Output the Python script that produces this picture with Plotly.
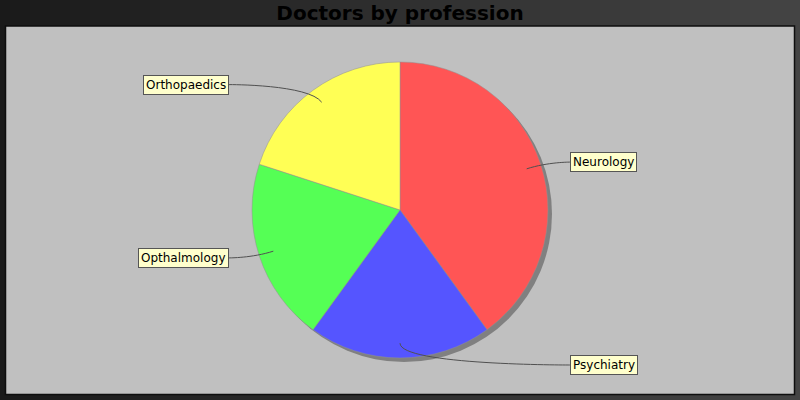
import math
import plotly.graph_objects as go

# ---- data ----
categories = ["Neurology", "Psychiatry", "Opthalmology", "Orthopaedics"]
values = [40, 20, 20, 20]
slice_colors = ["#FF5555", "#5555FF", "#55FF55", "#FFFF55"]
title_text = "Doctors by profession"

# ---- layout constants (pixels) ----
W, H = 800, 400
CX, CY, R = 400, 210, 148
SHADOW = 4


def px(x):
    return x / W


def py(y):
    return 1 - y / H


fig = go.Figure()

# shadow pie
fig.add_trace(go.Pie(
    values=[1], labels=["shadow"], sort=False,
    marker=dict(colors=["#808080"], line=dict(width=0)),
    textinfo="none", hoverinfo="skip", showlegend=False,
    domain=dict(x=[px(CX - R + SHADOW), px(CX + R + SHADOW)],
                y=[py(CY + R + SHADOW), py(CY - R + SHADOW)]),
))

# main pie
fig.add_trace(go.Pie(
    values=values, labels=categories, sort=False, direction="clockwise",
    rotation=0,
    marker=dict(colors=slice_colors, line=dict(color="#909090", width=0.5)),
    textinfo="none", hoverinfo="label+value+percent", showlegend=False,
    domain=dict(x=[px(CX - R), px(CX + R)], y=[py(CY + R), py(CY - R)]),
))

shapes = []
# gradient background strips
n = 80
c0, c1 = 26, 68
for i in range(n):
    v = int(round(c0 + (c1 - c0) * i / (n - 1)))
    col = f"rgb({v},{v},{v})"
    shapes.append(dict(type="rect", xref="paper", yref="paper", layer="below",
                       x0=i / n, x1=(i + 1) / n + 0.002, y0=0, y1=1,
                       fillcolor=col, line=dict(width=0)))
# plot area
shapes.append(dict(type="rect", xref="paper", yref="paper", layer="below",
                   x0=px(5.5), x1=px(794.5), y0=py(394.5), y1=py(26),
                   fillcolor="#C0C0C0", line=dict(color="#0e0e0e", width=1.5)))

annotations = []
total = sum(values)
cum = 0
for cat, v in zip(categories, values):
    mid = (cum + v / 2) / total
    cum += v
    th = 2 * math.pi * mid
    s, c = math.sin(th), math.cos(th)
    ax, ay = CX + 0.9 * R * s, CY - 0.9 * R * c
    elx, ely = CX + 1.05 * R * s, CY - 1.05 * R * c
    ly = CY - 155 * c
    right = mid <= 0.5
    ex = CX + 170 if right else CX - 171
    path = (f"M {px(ax)},{py(ay)} C {px(elx)},{py(ely)} "
            f"{px(ex)},{py(ly)} {px(ex)},{py(ly)}")
    shapes.append(dict(type="path", xref="paper", yref="paper", layer="above",
                       path=path, line=dict(color="#505050", width=1)))
    annotations.append(dict(
        x=px(ex), y=py(ly), xref="paper", yref="paper",
        xanchor="left" if right else "right", yanchor="middle",
        text=cat, showarrow=False,
        font=dict(family="DejaVu Sans", size=12, color="black"),
        bgcolor="#FFFFCC", bordercolor="#555555", borderwidth=1, borderpad=2,
    ))

fig.update_layout(
    width=W, height=H, margin=dict(l=0, r=0, t=0, b=0),
    paper_bgcolor="#2a2a2a", plot_bgcolor="rgba(0,0,0,0)",
    title=dict(text="<b>" + title_text + "</b>", x=0.5, xanchor="center",
               y=py(13), yanchor="middle", yref="container",
               font=dict(family="DejaVu Sans", size=20, color="black")),
    shapes=shapes, annotations=annotations,
)

fig.write_html("out.html")
